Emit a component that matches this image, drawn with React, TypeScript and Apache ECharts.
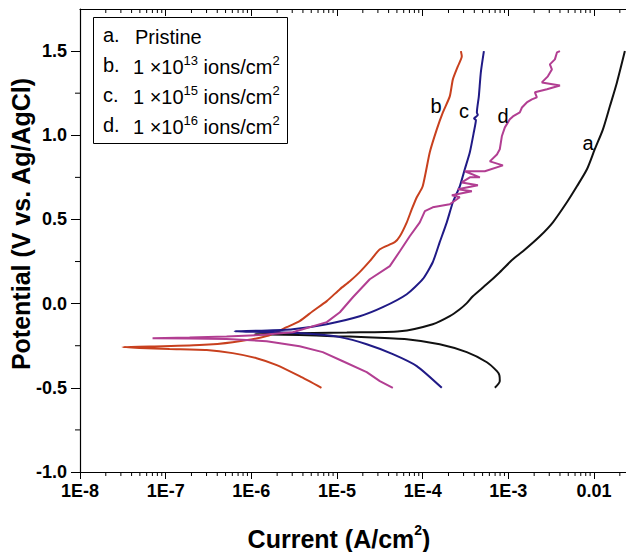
import { useEffect, useRef } from 'react';
import * as echarts from 'echarts';

const FONT = "'Liberation Sans', Arial, Helvetica, sans-serif";

// Axis ranges
const X_MIN = 1e-8;
const X_MAX = 0.0236;
const Y_MIN = -1.0;
const Y_MAX = 1.75;

const xTickLabels = ['1E-8', '1E-7', '1E-6', '1E-5', '1E-4', '1E-3', '0.01'];
const xDecades = [1e-8, 1e-7, 1e-6, 1e-5, 1e-4, 1e-3, 1e-2];
const xMinorMultipliers = [2, 3, 4, 5, 6, 7, 8, 9];
const yMinorTicks = [-0.75, -0.25, 0.25, 0.75, 1.25];

// [current (A/cm2), potential (V vs Ag/AgCl)]
const curveA: [number, number][] = [
  [6.95e-4, -0.5], [7.94e-4, -0.46], [7.85e-4, -0.425], [7.35e-4, -0.401], [5.61e-4, -0.348],
  [3.27e-4, -0.288], [1.58e-4, -0.241], [6.52e-5, -0.211], [2.22e-5, -0.199], [8.91e-6, -0.193],
  [3.66e-6, -0.187], [1.64e-6, -0.184], [1.09e-6, -0.181], [2.14e-6, -0.178], [1.3e-5, -0.171],
  [5.41e-5, -0.164], [1.31e-4, -0.122], [2.07e-4, -0.074], [2.71e-4, -0.033], [3.27e-4, 0.003],
  [3.85e-4, 0.044], [5.61e-4, 0.116], [7.94e-4, 0.187], [1.13e-3, 0.264], [1.48e-3, 0.311],
  [2.33e-3, 0.4], [3.31e-3, 0.483], [4.82e-3, 0.602], [6.31e-3, 0.697], [8.26e-3, 0.798],
  [1.02e-2, 0.917], [1.27e-2, 1.035], [1.53e-2, 1.172], [1.85e-2, 1.314], [2.29e-2, 1.5],
];

const curveB: [number, number][] = [
  [6.58e-6, -0.5], [3.66e-6, -0.431], [1.98e-6, -0.365], [1.15e-6, -0.324], [6.05e-7, -0.294],
  [3.01e-7, -0.276], [1.11e-7, -0.27], [4.95e-8, -0.264], [3.14e-8, -0.258], [6.49e-8, -0.255],
  [2.49e-7, -0.246], [6.05e-7, -0.229], [1.51e-6, -0.193], [2.58e-6, -0.14], [3.66e-6, -0.104],
  [5.2e-6, -0.045], [7.59e-6, 0.015], [1.08e-5, 0.086], [1.41e-5, 0.133], [1.84e-5, 0.187],
  [2.41e-5, 0.252], [3.16e-5, 0.323], [4.72e-5, 0.365], [5.41e-5, 0.4], [6.52e-5, 0.483],
  [7.46e-5, 0.561], [8.53e-5, 0.632], [1.0e-4, 0.697], [1.21e-4, 0.899], [1.46e-4, 1.035],
  [1.72e-4, 1.136], [2.07e-4, 1.231], [2.25e-4, 1.332], [2.57e-4, 1.409], [2.86e-4, 1.469],
  [2.79e-4, 1.5],
];

const curveC: [number, number][] = [
  [1.67e-4, -0.5], [8.53e-5, -0.371], [4.48e-5, -0.3], [2.22e-5, -0.241], [1.08e-5, -0.199],
  [5.2e-6, -0.181], [2.14e-6, -0.17], [9.55e-7, -0.167], [6.38e-7, -0.164], [1.25e-6, -0.161],
  [3.04e-6, -0.152], [7.59e-6, -0.122], [1.84e-5, -0.075], [3.42e-5, -0.021], [6.52e-5, 0.056],
  [1.0e-4, 0.145], [1.31e-4, 0.246], [1.58e-4, 0.365], [1.91e-4, 0.483], [2.25e-4, 0.602],
  [2.71e-4, 0.697], [3.1e-4, 0.798], [3.55e-4, 0.899], [3.95e-4, 1.018], [4.18e-4, 1.09],
  [3.98e-4, 1.1], [4.4e-4, 1.12], [4.29e-4, 1.136], [4.52e-4, 1.231], [4.77e-4, 1.374],
  [5.18e-4, 1.5],
];

const curveD: [number, number][] = [
  [4.48e-5, -0.5], [3.16e-5, -0.46], [2.22e-5, -0.407], [1.17e-5, -0.342], [6.81e-6, -0.288],
  [3.66e-6, -0.253], [1.51e-6, -0.223], [5.14e-7, -0.21], [1.9e-7, -0.207], [7.03e-8, -0.205],
  [1.9e-7, -0.201], [5.14e-7, -0.195], [1.25e-6, -0.187], [3.04e-6, -0.17], [7.59e-6, -0.11],
  [1.08e-5, -0.051], [1.53e-5, 0.038], [2.41e-5, 0.145], [4.13e-5, 0.223], [5.41e-5, 0.311],
  [7.06e-5, 0.4], [9.25e-5, 0.483], [1.06e-4, 0.549], [1.31e-4, 0.572], [2.07e-4, 0.59],
  [2.71e-4, 0.632], [2.19e-4, 0.644], [3.75e-4, 0.667], [2.57e-4, 0.679], [4.41e-4, 0.703],
  [2.86e-4, 0.72], [3.55e-4, 0.75], [4.65e-4, 0.75], [3.1e-4, 0.786], [5.31e-4, 0.786],
  [8.63e-4, 0.821], [6.08e-4, 0.845], [7.35e-4, 0.886], [7.94e-4, 0.917], [8.39e-4, 0.994],
  [9.1e-4, 1.047], [1.04e-3, 1.095], [1.13e-3, 1.112], [1.36e-3, 1.136], [1.44e-3, 1.165],
  [1.64e-3, 1.195], [1.88e-3, 1.213], [2.15e-3, 1.225], [2.04e-3, 1.255], [2.82e-3, 1.273],
  [4.0e-3, 1.296], [2.46e-3, 1.314], [2.89e-3, 1.35], [3.22e-3, 1.391], [3.05e-3, 1.421],
  [3.49e-3, 1.451], [3.69e-3, 1.492], [4.0e-3, 1.5],
];

const seriesNames = ['a', 'b', 'c', 'd'];
const seriesColors = ['#111111', '#C8401E', '#201A86', '#B23E92'];
const seriesSmooth = [0.25, 0.2, 0.2, 0];
const legendLetters = ['a.', 'b.', 'c.', 'd.'];
const legendExponents = ['', '13', '15', '16'];

export default function App() {
  const ref = useRef<HTMLDivElement>(null);

  useEffect(() => {
    if (!ref.current) return;
    const chart = echarts.init(ref.current, null, { renderer: 'svg' });

    const xMinor: number[] = [];
    xDecades.forEach((d) => xMinorMultipliers.forEach((m) => {
      const v = d * m;
      if (v < X_MAX) xMinor.push(v);
    }));

    const xLabel = (v: number) => {
      const e = Math.log10(v);
      const r = Math.round(e);
      if (Math.abs(e - r) > 0.01) return '';
      const i = r + 8;
      return xTickLabels[i] ?? '';
    };

    const curves = [curveA, curveB, curveC, curveD];

    const lineSeries = curves.map((data, i) => ({
      type: 'line',
      name: seriesNames[i],
      data,
      symbol: 'none',
      showSymbol: false,
      silent: true,
      smooth: seriesSmooth[i] || false,
      lineStyle: { color: seriesColors[i], width: 2 },
      itemStyle: { color: seriesColors[i] },
      z: 3,
    }));

    const legendTexts: any[] = [];
    legendLetters.forEach((l, i) => {
      const y = 35 + i * 30;
      legendTexts.push({
        type: 'text', x: 103, y, z: 11,
        style: { text: l, fontSize: 20, fontFamily: FONT, fill: '#000', verticalAlign: 'middle' },
      });
      const txt = legendExponents[i]
        ? `{t|1 ×10}{s|${legendExponents[i]}}{t| ions/cm}{s|2}`
        : '{t|Pristine}';
      legendTexts.push({
        type: 'text', x: i === 0 ? 135 : 133, y, z: 11,
        style: {
          text: txt,
          verticalAlign: 'middle',
          rich: {
            t: { fontSize: 20, fontFamily: FONT, fill: '#000', lineHeight: 23, verticalAlign: 'bottom' },
            s: { fontSize: 13, fontFamily: FONT, fill: '#000', lineHeight: 23, verticalAlign: 'top' },
          },
        },
      });
    });

    const curveLabels = [
      { t: 'a', x: 588, y: 143 },
      { t: 'b', x: 436, y: 106 },
      { t: 'c', x: 464, y: 111 },
      { t: 'd', x: 503, y: 116 },
    ];

    chart.setOption({
      animation: false,
      grid: { left: 80, right: 0, top: 9, bottom: 80, containLabel: false },
      xAxis: [
        {
          type: 'log', logBase: 10, min: X_MIN, max: X_MAX, position: 'bottom',
          axisLine: { show: true, onZero: false, lineStyle: { color: '#000', width: 1.2 } },
          axisTick: { show: true, inside: false, length: 7, lineStyle: { color: '#000', width: 1 } },
          axisLabel: {
            formatter: xLabel, margin: 10, color: '#000', fontSize: 18, fontWeight: 'bold',
            fontFamily: FONT, showMaxLabel: false,
          },
          splitLine: { show: false },
          minorTick: { show: false },
        },
        {
          type: 'log', logBase: 10, min: X_MIN, max: X_MAX, position: 'top',
          axisLine: { show: true, onZero: false, lineStyle: { color: '#000', width: 1.2 } },
          axisTick: { show: true, inside: true, length: 7, lineStyle: { color: '#000', width: 1 } },
          axisLabel: { show: false },
          splitLine: { show: false },
        },
      ],
      yAxis: [
        {
          type: 'value', min: Y_MIN, max: Y_MAX, interval: 0.5,
          axisLine: { show: true, onZero: false, lineStyle: { color: '#000', width: 1.2 } },
          axisTick: { show: true, length: 9, lineStyle: { color: '#000', width: 1 } },
          axisLabel: {
            formatter: (v: number) => (v > 1.6 ? '' : v.toFixed(1)),
            margin: 13, color: '#000', fontSize: 18, fontWeight: 'bold', fontFamily: FONT,
            showMaxLabel: false,
          },
          splitLine: { show: false },
        },
      ],
      series: [
        ...lineSeries,
        {
          type: 'custom',
          silent: true,
          clip: false,
          z: 1,
          data: xMinor.map((v) => [v, Y_MIN]),
          renderItem: (_p: any, api: any) => {
            const x = api.value(0);
            const b = api.coord([x, Y_MIN]);
            const t = api.coord([x, Y_MAX]);
            return {
              type: 'group',
              children: [
                { type: 'line', shape: { x1: b[0], y1: b[1], x2: b[0], y2: b[1] + 4 }, style: { stroke: '#000', lineWidth: 1 } },
                { type: 'line', shape: { x1: t[0], y1: t[1], x2: t[0], y2: t[1] + 4 }, style: { stroke: '#000', lineWidth: 1 } },
              ],
            };
          },
        },
        {
          type: 'custom',
          silent: true,
          clip: false,
          z: 1,
          data: yMinorTicks.map((v) => [X_MIN, v]),
          renderItem: (_p: any, api: any) => {
            const y = api.value(1);
            const p = api.coord([X_MIN, y]);
            return { type: 'line', shape: { x1: p[0] - 5, y1: p[1], x2: p[0], y2: p[1] }, style: { stroke: '#000', lineWidth: 1 } };
          },
        },
      ],
      graphic: [
        {
          type: 'rect', z: 10,
          shape: { x: 93.5, y: 17.5, width: 194, height: 126 },
          style: { fill: '#fff', stroke: '#000', lineWidth: 1 },
        },
        ...legendTexts,
        ...curveLabels.map((c) => ({
          type: 'text', x: c.x, y: c.y, z: 11,
          style: { text: c.t, fontSize: 20, fontFamily: FONT, fill: '#000', align: 'center', verticalAlign: 'middle' },
        })),
        {
          type: 'text', x: 339, y: 537, z: 11,
          style: {
            text: '{t|Current (A/cm}{s|2}{t|)}',
            align: 'center', verticalAlign: 'middle',
            rich: {
              t: { fontSize: 25, fontWeight: 'bold', fontFamily: FONT, fill: '#000', lineHeight: 28, verticalAlign: 'bottom' },
              s: { fontSize: 14, fontWeight: 'bold', fontFamily: FONT, fill: '#000', lineHeight: 28, verticalAlign: 'top' },
            },
          },
        },
        {
          type: 'text', x: 21, y: 224, z: 11, rotation: Math.PI / 2,
          style: {
            text: 'Potential (V vs. Ag/AgCl)',
            fontSize: 25, fontWeight: 'bold', fontFamily: FONT, fill: '#000',
            align: 'center', verticalAlign: 'middle',
          },
        },
      ],
    });

    return () => chart.dispose();
  }, []);

  return (
    <div
      ref={ref}
      style={{ position: 'absolute', left: 0, top: 0, width: 626, height: 552, background: '#fff' }}
    />
  );
}
